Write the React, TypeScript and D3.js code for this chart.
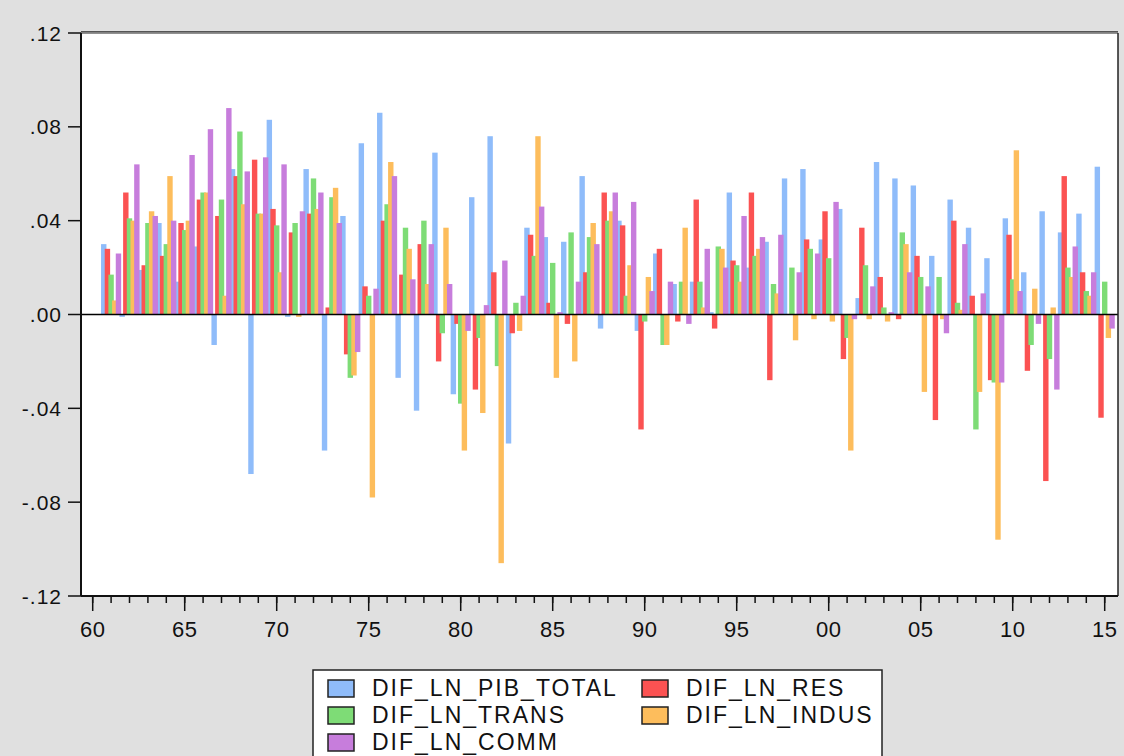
import React from 'react';
import * as d3 from 'd3';

const years = d3.range(1961, 2016);

const pibTotal = [
  0.030, -0.001, 0.019, 0.039, 0.014, 0.029, -0.013, 0.062, -0.068, 0.083,
  -0.001, 0.062, -0.058, 0.042, 0.073, 0.086, -0.027, -0.041, 0.069, -0.034,
  0.050, 0.076, -0.055, 0.037, 0.033, 0.031, 0.059, -0.006, 0.040, -0.007,
  0.026, 0.013, 0.014, 0.001, 0.052, 0.020, 0.031, 0.058, 0.062, 0.032,
  0.045, 0.007, 0.065, 0.058, 0.055, 0.025, 0.049, 0.037, 0.024, 0.041,
  0.018, 0.044, 0.035, 0.043, 0.063,
];
const res = [
  0.028, 0.052, 0.021, 0.025, 0.039, 0.049, 0.042, 0.059, 0.066, 0.045,
  0.035, 0.043, 0.003, -0.017, 0.012, 0.040, 0.017, 0.030, -0.020, -0.004,
  -0.032, 0.018, -0.008, 0.034, 0.005, -0.004, 0.018, 0.052, 0.038, -0.049,
  0.028, -0.003, 0.049, -0.006, 0.023, 0.052, -0.028, 0.000, 0.032, 0.044,
  -0.019, 0.037, 0.016, -0.002, 0.025, -0.045, 0.040, 0.008, -0.028, 0.034,
  -0.024, -0.071, 0.059, 0.018, -0.044,
];
const trans = [
  0.017, 0.041, 0.039, 0.030, 0.036, 0.052, 0.049, 0.078, 0.043, 0.038,
  0.039, 0.058, 0.050, -0.027, 0.008, 0.047, 0.037, 0.040, -0.008, -0.038,
  -0.010, -0.022, 0.005, 0.025, 0.022, 0.035, 0.033, 0.040, 0.008, -0.003,
  -0.013, 0.014, 0.014, 0.029, 0.021, 0.025, 0.013, 0.020, 0.028, 0.024,
  -0.010, 0.021, 0.003, 0.035, 0.016, 0.016, 0.005, -0.049, -0.029, 0.015,
  -0.013, -0.019, 0.020, 0.010, 0.014,
];
const indus = [
  0.006, 0.040, 0.044, 0.059, 0.040, 0.052, 0.008, 0.047, 0.043, 0.018,
  -0.001, 0.045, 0.054, -0.026, -0.078, 0.065, 0.028, 0.013, 0.037, -0.058,
  -0.042, -0.106, -0.007, 0.076, -0.027, -0.020, 0.039, 0.044, 0.021, 0.016,
  -0.013, 0.037, 0.003, 0.028, 0.014, 0.028, 0.009, -0.011, -0.002, -0.003,
  -0.058, -0.002, -0.003, 0.030, -0.033, -0.002, 0.002, -0.033, -0.096, 0.070,
  0.011, 0.003, 0.016, 0.008, -0.010,
];
const comm = [
  0.026, 0.064, 0.042, 0.040, 0.068, 0.079, 0.088, 0.061, 0.067, 0.064,
  0.044, 0.052, 0.039, -0.016, 0.011, 0.059, 0.015, 0.030, 0.013, -0.007,
  0.004, 0.023, 0.008, 0.046, 0.001, 0.014, 0.030, 0.052, 0.048, 0.010,
  0.014, -0.004, 0.028, 0.020, 0.042, 0.033, 0.034, 0.018, 0.026, 0.048,
  -0.002, 0.012, 0.001, 0.018, 0.012, -0.008, 0.030, 0.009, -0.029, 0.010,
  -0.004, -0.032, 0.029, 0.018, -0.006,
];

const seriesNames = ['DIF_LN_PIB_TOTAL', 'DIF_LN_RES', 'DIF_LN_TRANS', 'DIF_LN_INDUS', 'DIF_LN_COMM'];
const seriesColors = ['#8fbcfa', '#fb5252', '#7edc76', '#fdbd5c', '#c77ddc'];
const seriesValues = [pibTotal, res, trans, indus, comm];

const yTicks = [0.12, 0.08, 0.04, 0, -0.04, -0.08, -0.12];
const yTickLabels = ['.12', '.08', '.04', '.00', '-.04', '-.08', '-.12'];
const xMajorYears = [1960, 1965, 1970, 1975, 1980, 1985, 1990, 1995, 2000, 2005, 2010, 2015];
const xMajorLabels = ['60', '65', '70', '75', '80', '85', '90', '95', '00', '05', '10', '15'];
const xMinorYears = d3.range(1960, 2016);

// legend layout: [column, row] for each series
const legendPos = [[0, 0], [1, 0], [0, 1], [1, 1], [0, 2]];

export default function App() {
  const W = 1124, H = 756;
  const left = 81, right = 1118, top = 33, bottom = 596;
  const x = d3.scaleLinear().domain([1960, 2015]).range([92.7, 1104.7]);
  const y = d3.scaleLinear().domain([-0.12, 0.12]).range([bottom, top]);
  const step = (x(1961) - x(1960)) / 5;
  const bw = 5.4;
  const font = 'Arial, "Liberation Sans", sans-serif';

  return (
    <svg width={W} height={H} style={{ position: 'absolute', left: 0, top: 0 }} fontFamily={font}>
      <rect x={0} y={0} width={W} height={H} fill="#e0e0e0" />
      <rect x={left} y={top} width={right - left} height={bottom - top} fill="#ffffff" />
      {/* bars */}
      <g>
        {seriesValues.map((vals, si) => (
          <g key={si} fill={seriesColors[si]}>
            {vals.map((v, i) => {
              const cx = x(years[i]) + (si - 2) * step;
              const y0 = y(0), y1 = y(v);
              return (
                <rect key={i} x={cx - bw / 2} y={Math.min(y0, y1)} width={bw} height={Math.max(0.5, Math.abs(y1 - y0))} />
              );
            })}
          </g>
        ))}
      </g>
      {/* zero line */}
      <line x1={left} x2={right} y1={y(0)} y2={y(0)} stroke="#000" strokeWidth={1.5} />
      {/* frame */}
      <line x1={left} x2={right} y1={top - 1.5} y2={top - 1.5} stroke="#555" strokeWidth={1} />
      <line x1={left} x2={right} y1={top} y2={top} stroke="#222" strokeWidth={1} />
      <line x1={right} x2={right} y1={top} y2={bottom} stroke="#222" strokeWidth={1.5} />
      <line x1={left} x2={left} y1={top} y2={bottom} stroke="#111" strokeWidth={2} />
      <line x1={left} x2={right} y1={bottom} y2={bottom} stroke="#111" strokeWidth={2} />
      {/* y ticks */}
      {yTicks.map((t, i) => (
        <g key={i}>
          <line x1={68} x2={left} y1={y(t)} y2={y(t)} stroke="#111" strokeWidth={1.5} />
          <text x={62} y={y(t)} dy="0.36em" textAnchor="end" fontSize={21} letterSpacing={1} fill="#111">
            {yTickLabels[i]}
          </text>
        </g>
      ))}
      {/* x ticks */}
      {xMinorYears.map((yr) => (
        <line key={yr} x1={x(yr)} x2={x(yr)} y1={bottom} y2={bottom + 7} stroke="#111" strokeWidth={1.5} />
      ))}
      {xMajorYears.map((yr, i) => (
        <g key={yr}>
          <line x1={x(yr)} x2={x(yr)} y1={bottom} y2={bottom + 15} stroke="#111" strokeWidth={1.5} />
          <text x={x(yr)} y={637} textAnchor="middle" fontSize={22} letterSpacing={0.5} fill="#111">
            {xMajorLabels[i]}
          </text>
        </g>
      ))}
      {/* legend */}
      <rect x={313} y={670} width={569} height={100} fill="#ffffff" stroke="#222" strokeWidth={1.5} />
      {seriesNames.map((name, si) => {
        const [c, r] = legendPos[si];
        const sx = c === 0 ? 328 : 642;
        const sy = 680 + r * 27;
        return (
          <g key={name}>
            <rect x={sx} y={sy} width={26} height={17} fill={seriesColors[si]} stroke="#222" strokeWidth={1.5} />
            <text x={sx + 44} y={sy + 16} fontSize={23} letterSpacing={2} fill="#111">
              {name}
            </text>
          </g>
        );
      })}
    </svg>
  );
}
